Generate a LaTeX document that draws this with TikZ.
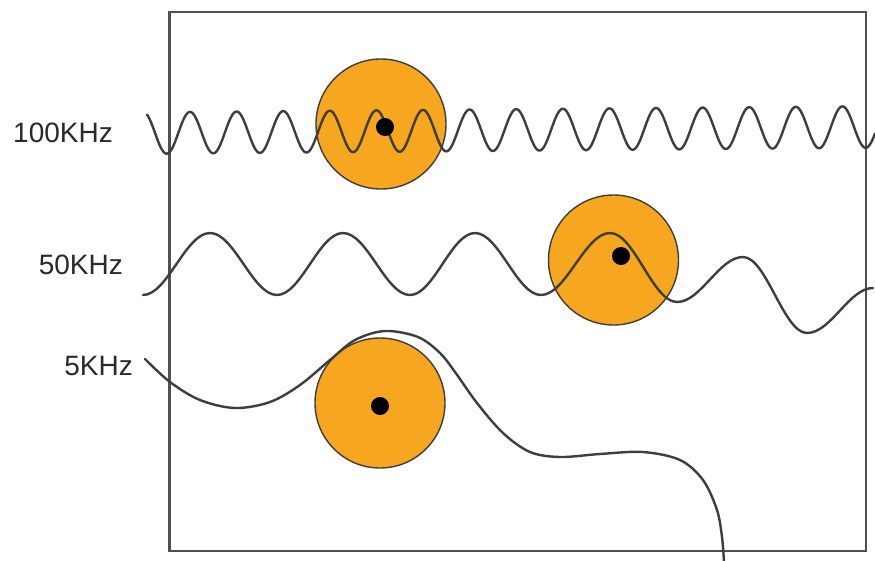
\documentclass[tikz,border=0pt]{standalone}
\usepackage{fontspec}
\setmainfont{Liberation Sans}
\definecolor{wavegray}{HTML}{3E3E3E}
\definecolor{framegray}{HTML}{505050}
\definecolor{labgray}{HTML}{2A2A2A}
\definecolor{discorange}{HTML}{F6A61F}
\begin{document}
\begin{tikzpicture}[x=1pt,y=-1pt,
  wave/.style={draw=wavegray, line width=2.4pt, line cap=round, line join=round},
  frame/.style={draw=framegray, line width=2.6pt},
  disc/.style={circle, fill=discorange, draw=wavegray, line width=1.4pt, minimum size=130pt, inner sep=0pt},
  dotc/.style={circle, fill=black, minimum size=18pt, inner sep=0pt},
  lab/.style={text=labgray, font=\fontsize{28}{30}\selectfont, inner sep=0pt}]
\useasboundingbox (0,0) rectangle (875,560);
\fill[white] (0,0) rectangle (875,560);
% discs
\node[disc] (c1) at (381,124) {};
\node[disc] (c2) at (613.5,260) {};
\node[disc] (c3) at (380,403) {};
% frame
\draw[frame] (169.5,12) rectangle (866,551);
% 100 kHz wave
\draw[wave] plot[domain=147:875, samples=700] (\x, {132.7 - 0.00843*(\x-190) - 20.8*cos(7.72532*(\x-190))});
% 50 kHz wave
\draw[wave] (143,295) cos (176.5,264) sin (210,233) cos (243.5,264) sin (277,295)
  cos (310,264) sin (343,233) cos (376.5,264) sin (410,295) cos (442.5,264) sin (475,233)
  cos (508,264) sin (541,295) cos (575.5,264) sin (610,233) cos (643.5,267.5) sin (677,302)
  cos (710,279.5) sin (743,257) cos (775,295) sin (807,333) cos (840,310.5) sin (873,288);
% 5 kHz wave
\draw[wave] plot[smooth, tension=0.55] coordinates {(145,359) (170,382) (200,400) (235,408) (270,402) (300,385) (330,360) (355,340) (385,331) (418,337) (440,353) (455,372) (477,403) (503,433) (530,452) (560,457) (600,454) (643,452) (680,460) (703,480) (717,510) (722,537) (724,562)};
% dots
\node[dotc] (d1) at (385,127) {};
\node[dotc] (d2) at (621,256) {};
\node[dotc] (d3) at (380,406) {};
% labels
\node[lab, anchor=east] (l100) at (113,133) {100KHz};
\node[lab, anchor=east] (l50) at (123,265) {50KHz};
\node[lab, anchor=east] (l5) at (133,366) {5KHz};
\end{tikzpicture}
\end{document}
